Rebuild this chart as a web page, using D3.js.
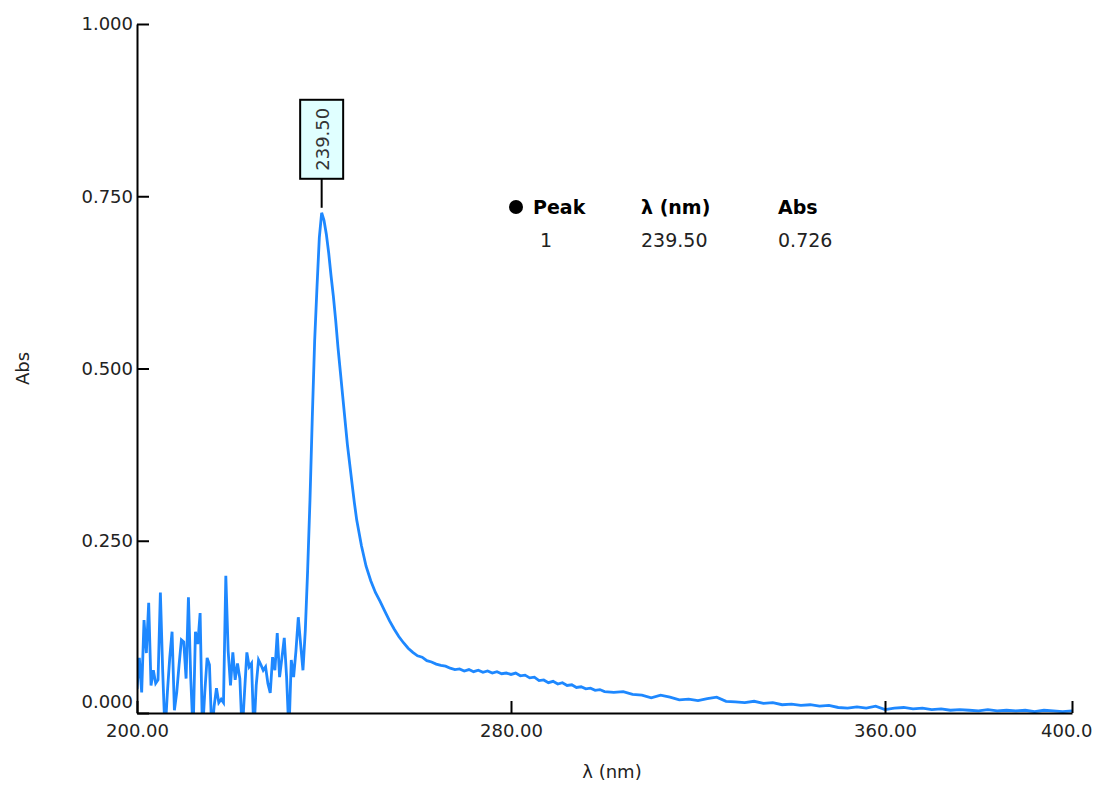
<!DOCTYPE html>
<html>
<head>
<meta charset="utf-8">
<script src="https://cdn.jsdelivr.net/npm/d3@7.9.0/dist/d3.min.js"></script>
<style>
  body { margin: 0; background: #fff; }
  text { font-family: "DejaVu Sans", Verdana, sans-serif; }
</style>
</head>
<body>
<div id="chart"></div>
<script>
// spectrum
const wavelengths = [
  200.0, 200.5, 201.0, 201.5, 202.0, 202.5, 203.0, 203.5, 204.0, 204.5,
  205.0, 205.5, 206.0, 206.5, 207.0, 207.5, 208.0, 208.5, 209.0, 209.5,
  210.0, 210.5, 211.0, 211.5, 212.0, 212.5, 213.0, 213.5, 214.0, 214.5,
  215.0, 215.5, 216.0, 216.5, 217.0, 217.5, 218.0, 218.5, 219.0, 219.5,
  220.0, 220.5, 221.0, 221.5, 222.0, 222.5, 223.0, 223.5, 224.0, 224.5,
  225.0, 225.5, 226.0, 226.5, 227.0, 227.5, 228.0, 228.5, 229.0, 229.5,
  230.0, 230.5, 231.0, 231.5, 232.0, 232.5, 233.0, 233.5, 234.0, 234.5,
  235.0, 235.5, 236.0, 236.5, 237.0, 237.5, 238.0, 238.5, 239.0, 239.5,
  240.0, 240.5, 241.0, 241.5, 242.0, 242.5, 243.0, 243.5, 244.0, 245.0,
  246.0, 246.5, 247.0, 248.0, 249.0, 250.0, 251.0, 252.0, 253.0, 254.0,
  255.0, 256.0, 257.0, 258.0, 259.0, 260.0, 261.0, 262.0, 263.0, 264.0,
  265.0, 266.0, 267.0, 268.0, 269.0, 270.0, 271.0, 272.0, 273.0, 274.0,
  275.0, 276.0, 277.0, 278.0, 279.0, 280.0, 281.0, 282.0, 283.0, 284.0,
  285.0, 286.0, 287.0, 288.0, 289.0, 290.0, 291.0, 292.0, 293.0, 294.0,
  295.0, 296.0, 297.0, 298.0, 299.0, 300.0, 302, 304, 306, 308,
  310, 312, 314, 316, 318, 320, 322, 324, 326, 328,
  330, 332, 334, 336, 338, 340, 342, 344, 346, 348,
  350, 352, 354, 356, 358, 360, 362, 364, 366, 368,
  370, 372, 374, 376, 378, 380, 382, 384, 386, 388,
  390, 392, 394, 396, 398, 400
];
const absorbance = [
  0.035, 0.080, 0.030, 0.135, 0.087, 0.160, 0.040, 0.062, 0.043, 0.048,
  0.175, 0.060, -0.030, 0.030, 0.080, 0.118, 0.004, 0.030, 0.070, 0.106,
  0.103, 0.050, 0.168, 0.050, -0.030, 0.118, 0.100, 0.145, -0.030, 0.030,
  0.080, 0.070, -0.030, 0.010, 0.036, 0.015, 0.020, 0.015, 0.199, 0.090,
  0.040, 0.088, 0.048, 0.072, 0.050, -0.030, 0.030, 0.088, 0.067, 0.072,
  -0.030, 0.040, 0.077, 0.070, 0.062, 0.067, 0.043, 0.029, 0.081, 0.062,
  0.116, 0.052, 0.080, 0.109, 0.052, -0.030, 0.077, 0.052, 0.090, 0.139,
  0.100, 0.062, 0.120, 0.207, 0.309, 0.430, 0.540, 0.618, 0.690, 0.726,
  0.715, 0.695, 0.668, 0.635, 0.605, 0.570, 0.530, 0.495, 0.460, 0.390,
  0.333, 0.305, 0.280, 0.243, 0.213, 0.192, 0.175, 0.162, 0.148, 0.134,
  0.122, 0.111, 0.102, 0.094, 0.088, 0.083, 0.081, 0.076, 0.074, 0.071,
  0.069, 0.068, 0.065, 0.063, 0.064, 0.061, 0.063, 0.060, 0.062, 0.059,
  0.061, 0.058, 0.060, 0.057, 0.058, 0.056, 0.058, 0.054, 0.055, 0.051,
  0.052, 0.047, 0.048, 0.044, 0.046, 0.042, 0.044, 0.040, 0.041, 0.037,
  0.038, 0.035, 0.036, 0.033, 0.034, 0.031, 0.030, 0.031, 0.027, 0.026,
  0.022, 0.026, 0.023, 0.019, 0.020, 0.018, 0.021, 0.023, 0.017, 0.016,
  0.015, 0.017, 0.014, 0.015, 0.012, 0.013, 0.011, 0.012, 0.010, 0.011,
  0.008, 0.007, 0.009, 0.007, 0.010, 0.005, 0.007, 0.008, 0.006, 0.007,
  0.005, 0.006, 0.004, 0.005, 0.004, 0.003, 0.005, 0.003, 0.004, 0.003,
  0.004, 0.002, 0.004, 0.003, 0.002, 0.003
];

const xTicks = [200, 280, 360, 400];
const yTicks = [0, 0.25, 0.5, 0.75, 1.0];

// peak table
const peakHeaders = ["Peak", "λ (nm)", "Abs"];
const peakNumbers = ["1"];
const peakWavelengths = [239.5];
const peakAbs = [0.726];

const W = 1093, H = 789;
const margin = {top: 24, right: 21, bottom: 76, left: 137};
const width = W - margin.left - margin.right,
      height = H - margin.top - margin.bottom;

const svg = d3.select("#chart")
  .append("svg")
    .attr("width", W)
    .attr("height", H);

const g = svg.append("g")
    .attr("transform", `translate(${margin.left},${margin.top})`);

const x = d3.scaleLinear()
    .domain([200, 400])
    .range([0, width]);
const y = d3.scaleLinear()
    .domain([0, 1])
    .range([height, 0]);

// clip the trace to the plot area
svg.append("defs").append("clipPath")
    .attr("id", "plot-clip")
  .append("rect")
    .attr("x", 0).attr("y", 0)
    .attr("width", width).attr("height", height);

const data = wavelengths.map((w, i) => ({w: w, a: absorbance[i]}));

const line = d3.line()
    .x(d => x(d.w))
    .y(d => y(d.a));

g.append("path")
    .datum(data)
    .attr("clip-path", "url(#plot-clip)")
    .attr("fill", "none")
    .attr("stroke", "#1e88ff")
    .attr("stroke-width", 2.8)
    .attr("stroke-linejoin", "miter")
    .attr("stroke-miterlimit", 4)
    .attr("d", line);

// axes, ticks pointing inward
const yAxis = g.append("g")
    .call(d3.axisLeft(y)
      .tickValues(yTicks)
      .tickSize(-12)
      .tickSizeOuter(0)
      .tickPadding(4)
      .tickFormat(d3.format(".3f")));

const xAxis = g.append("g")
    .attr("transform", `translate(0,${height})`)
    .call(d3.axisBottom(x)
      .tickValues(xTicks)
      .tickSize(-12)
      .tickSizeOuter(0)
      .tickPadding(11)
      .tickFormat(d3.format(".2f")));

[yAxis, xAxis].forEach(ax => {
  ax.selectAll("path, line")
      .attr("stroke", "#000")
      .attr("stroke-width", 2);
  ax.selectAll("text")
      .attr("fill", "#222")
      .style("font-size", "18px")
      .style("font-family", "'DejaVu Sans', Verdana, sans-serif");
});
// the 0.000 label sits a little above the x axis
yAxis.selectAll(".tick text")
    .filter(d => d === 0)
    .attr("dy", "-0.3em");

// axis titles
svg.append("text")
    .attr("transform", `translate(29,${margin.top + height / 2}) rotate(-90)`)
    .attr("text-anchor", "middle")
    .style("font-size", "18px")
    .attr("fill", "#222")
    .text("Abs");

svg.append("text")
    .attr("x", 612)
    .attr("y", 778)
    .attr("text-anchor", "middle")
    .style("font-size", "18px")
    .attr("fill", "#222")
    .text("λ  (nm)");

// peak marker box
peakWavelengths.forEach((pw, i) => {
  const px = x(pw), py = y(peakAbs[i]);
  const boxW = 43, boxH = 79, gap = 34;
  g.append("line")
      .attr("x1", px).attr("x2", px)
      .attr("y1", py - 5).attr("y2", py - gap)
      .attr("stroke", "#000")
      .attr("stroke-width", 2);
  g.append("rect")
      .attr("x", px - boxW / 2)
      .attr("y", py - gap - boxH)
      .attr("width", boxW)
      .attr("height", boxH)
      .attr("fill", "#e0ffff")
      .attr("stroke", "#000")
      .attr("stroke-width", 2);
  g.append("text")
      .attr("transform", `translate(${px + 7},${py - gap - boxH / 2}) rotate(-90)`)
      .attr("text-anchor", "middle")
      .style("font-size", "18px")
      .attr("fill", "#333")
      .text(d3.format(".2f")(pw));
});

// peak table
const colX = [533, 641, 778];
svg.append("circle")
    .attr("cx", 516).attr("cy", 207)
    .attr("r", 7)
    .attr("fill", "#000");
peakHeaders.forEach((h, i) => {
  svg.append("text")
      .attr("x", colX[i])
      .attr("y", 214)
      .style("font-size", "19px")
      .style("font-weight", "bold")
      .attr("fill", "#000")
      .text(h);
});
peakNumbers.forEach((n, i) => {
  const row = [n, d3.format(".2f")(peakWavelengths[i]), d3.format(".3f")(peakAbs[i])];
  row.forEach((v, j) => {
    svg.append("text")
        .attr("x", j === 0 ? 540 : colX[j])
        .attr("y", 247 + i * 32)
        .style("font-size", "19px")
        .attr("fill", "#222")
        .text(v);
  });
});
</script>
</body>
</html>
